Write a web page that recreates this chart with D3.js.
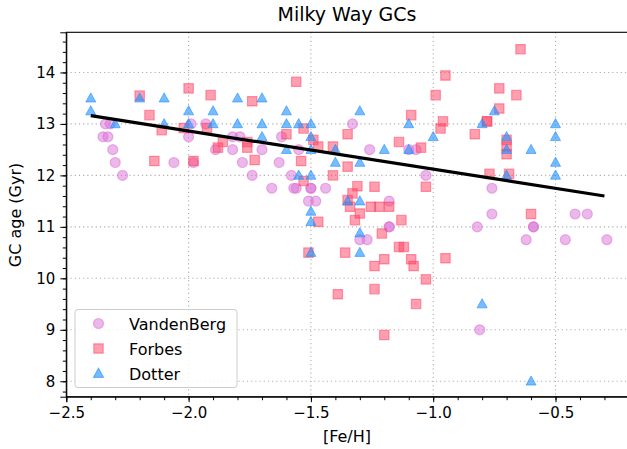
<!DOCTYPE html>
<html><head><meta charset="utf-8">
<script src="https://cdn.jsdelivr.net/npm/d3@7"></script>
<style>body{margin:0;background:#fff}svg{display:block;font-family:"DejaVu Sans",sans-serif}</style>
</head><body><svg id="c" width="627" height="449"></svg>
<script>
// ---- data ----
const vandenbergFeH = [-2.34,-2.32,-2.35,-2.33,-2.31,-2.30,-2.27,-2.06,-2.00,-1.99,-1.98,-1.93,-1.89,-1.82,-1.82,-1.79,-1.78,-1.74,-1.70,-1.66,-1.62,-1.63,-1.58,-1.55,-1.57,-1.56,-1.50,-1.50,-1.44,-1.51,-1.48,-1.33,-1.30,-1.27,-1.26,-1.18,-1.18,-1.18,-1.10,-1.07,-1.03,-0.82,-0.81,-0.76,-0.76,-0.62,-0.59,-0.59,-0.46,-0.42,-0.37,-0.29];
const vandenbergAge = [13.0,13.0,12.75,12.75,12.5,12.25,12.0,12.25,12.75,13.0,12.25,13.0,12.5,12.75,12.5,12.75,12.25,12.0,12.5,11.75,12.75,12.25,12.0,12.5,11.75,11.75,11.75,11.75,11.75,11.5,11.5,13.0,10.75,10.75,12.5,11.5,11.0,11.0,12.5,12.5,12.0,11.0,9.0,11.75,11.25,10.75,11.0,11.0,10.75,11.25,11.25,10.75];

const forbesFeH = [-2.20,-2.16,-2.14,-2.11,-2.00,-2.02,-1.98,-1.91,-1.925,-1.86,-1.88,-1.76,-1.76,-1.74,-1.73,-1.56,-1.60,-1.53,-1.49,-1.47,-1.41,-1.35,-1.54,-1.35,-1.41,-1.53,-1.31,-1.24,-1.33,-1.35,-1.34,-1.30,-1.255,-1.22,-1.18,-1.32,-1.47,-1.13,-1.21,-1.14,-1.12,-1.51,-1.36,-1.20,-1.24,-1.09,-1.08,-0.95,-1.03,-1.39,-1.24,-1.07,-1.20,-1.14,-1.09,-1.05,-0.99,-0.95,-0.96,-0.97,-1.03,-0.643,-0.73,-0.66,-0.73,-0.78,-0.78,-0.83,-0.70,-0.70,-0.70,-0.77,-0.69,-0.60];
const forbesAge = [13.55,13.17,12.28,12.88,13.69,12.92,12.28,13.56,12.92,12.65,12.54,12.65,12.54,13.44,12.30,13.82,12.80,12.91,12.69,12.56,12.56,12.80,12.28,12.17,12.00,11.89,11.79,11.78,11.65,11.52,11.39,11.26,11.39,11.39,11.39,11.13,11.10,11.13,10.87,10.61,10.61,10.50,10.50,10.37,10.24,10.37,10.24,10.39,9.98,9.69,9.79,9.50,8.90,12.65,13.17,12.54,13.56,13.94,13.05,12.91,11.78,14.45,13.69,13.56,13.30,13.05,13.05,12.80,12.69,12.56,12.41,12.03,12.03,11.25];

const dotterFeH = [-2.4,-2.4,-2.3,-2.2,-2.1,-2.1,-2.0,-2.0,-1.9,-1.9,-1.8,-1.8,-1.7,-1.7,-1.7,-1.6,-1.6,-1.6,-1.55,-1.5,-1.5,-1.5,-1.55,-1.5,-1.4,-1.4,-1.3,-1.3,-1.2,-1.1,-1.1,-1.0,-1.35,-1.3,-1.5,-1.5,-1.5,-1.3,-1.3,-0.75,-0.8,-0.7,-0.7,-0.7,-0.6,-0.5,-0.5,-0.5,-0.5,-0.8,-0.6];
const dotterAge = [13.5,13.25,13.0,13.5,13.5,13.0,13.25,13.0,13.25,13.0,13.5,13.0,13.5,13.0,12.75,13.25,13.0,12.5,13.0,13.0,12.75,12.5,12.0,12.0,12.5,12.25,13.25,12.25,12.5,13.0,12.5,12.75,11.5,11.5,11.3,11.1,10.5,10.88,10.5,13.25,13.0,12.75,12.5,12.0,12.5,13.0,12.75,12.25,12.0,9.5,8.0];

const fitFeH = [-2.4, -0.3];
const fitAge = [13.16, 11.60];

const xTicks = [-2.5, -2.0, -1.5, -1.0, -0.5];
const yTicks = [8, 9, 10, 11, 12, 13, 14];
const seriesNames = ["VandenBerg", "Forbes", "Dotter"];

// ---- layout ----
const svg = d3.select("#c");
const L = 66.3, R = 628.9, T = 32.3, B = 396.7;
const x = d3.scaleLinear().domain([-2.5, -0.2]).range([L, R]);
const y = d3.scaleLinear().domain([7.70, 14.78]).range([B, T]);

const colV = "orchid", colF = "#ff4060", colD = "dodgerblue";

// grid
const grid = svg.append("g");
grid.selectAll("line.gx").data(xTicks.slice(1)).join("line")
  .attr("x1", d => x(d)).attr("x2", d => x(d)).attr("y1", T).attr("y2", B)
  .attr("stroke", "#b0b0b0").attr("stroke-width", 1.1).attr("stroke-dasharray", "1.2,3");
grid.selectAll("line.gy").data(yTicks).join("line")
  .attr("y1", d => y(d)).attr("y2", d => y(d)).attr("x1", L).attr("x2", R)
  .attr("stroke", "#b0b0b0").attr("stroke-width", 1.1).attr("stroke-dasharray", "1.2,3");

// clip
svg.append("clipPath").attr("id", "clip").append("rect")
  .attr("x", L).attr("y", T).attr("width", R - L).attr("height", B - T);
const plot = svg.append("g").attr("clip-path", "url(#clip)");

const circle = d3.symbol().type(d3.symbolCircle).size(Math.PI * 25);
const square = d3.symbol().type(d3.symbolSquare).size(88);
const triPath = "M0,-5.3L5,3.8L-5,3.8Z";

function pts(xs, ys) { return xs.map((v, i) => [v, ys[i]]); }

plot.append("g").selectAll("path").data(pts(vandenbergFeH, vandenbergAge)).join("path")
  .attr("d", circle).attr("transform", d => `translate(${x(d[0])},${y(d[1])})`)
  .attr("fill", colV).attr("fill-opacity", 0.5).attr("stroke", colV).attr("stroke-opacity", 0.5).attr("stroke-width", 1.2);
plot.append("g").selectAll("path").data(pts(forbesFeH, forbesAge)).join("path")
  .attr("d", square).attr("transform", d => `translate(${x(d[0])},${y(d[1])})`)
  .attr("fill", colF).attr("fill-opacity", 0.5).attr("stroke", colF).attr("stroke-opacity", 0.5).attr("stroke-width", 1.2);
plot.append("g").selectAll("path").data(pts(dotterFeH, dotterAge)).join("path")
  .attr("d", triPath).attr("transform", d => `translate(${x(d[0])},${y(d[1])})`)
  .attr("fill", colD).attr("fill-opacity", 0.6).attr("stroke", colD).attr("stroke-opacity", 0.6).attr("stroke-width", 1);

// fit line
plot.append("path").datum(pts(fitFeH, fitAge))
  .attr("d", d3.line().x(d => x(d[0])).y(d => y(d[1])))
  .attr("stroke", "#000").attr("stroke-width", 3.2).attr("fill", "none");

// axes
const xMinor = d3.range(-25, -1, 1).map(v => v / 10);
const yMinor = d3.range(39, 74, 1).map(v => v / 5).filter(v => v >= 7.7 && v <= 14.78);
const xAxis = d3.axisBottom(x).tickValues(xTicks).tickSize(5.5).tickPadding(5)
  .tickFormat(d => d3.format(".1f")(d).replace("-", "\u2212"));
const yAxis = d3.axisLeft(y).tickValues(yTicks).tickSize(6).tickPadding(5).tickFormat(d3.format("d"));

const gx = svg.append("g").attr("transform", `translate(0,${B})`).call(xAxis);
const gy = svg.append("g").attr("transform", `translate(${L},0)`).call(yAxis);
svg.append("g").attr("transform", `translate(0,${B})`)
  .call(d3.axisBottom(x).tickValues(xMinor).tickSize(3.5).tickFormat(""))
  .call(g => g.select(".domain").remove());
svg.append("g").attr("transform", `translate(${L},0)`)
  .call(d3.axisLeft(y).tickValues(yMinor).tickSize(3.5).tickFormat(""))
  .call(g => g.select(".domain").remove());
[gx, gy].forEach(g => {
  g.selectAll("text").attr("font-size", 15).attr("fill", "#000").attr("font-family", "DejaVu Sans");
  g.selectAll("line").attr("stroke", "#000");
  g.select(".domain").attr("stroke", "#000");
});
svg.selectAll(".tick line").attr("stroke-width", 1);

// frame
svg.append("rect").attr("x", L).attr("y", T).attr("width", R - L).attr("height", B - T)
  .attr("fill", "none").attr("stroke", "#000").attr("stroke-width", 1.1);

// labels
svg.append("text").attr("x", 347).attr("y", 21).attr("text-anchor", "middle")
  .attr("font-size", 19).text("Milky Way GCs");
svg.append("text").attr("x", 347).attr("y", 442).attr("text-anchor", "middle")
  .attr("font-size", 16).text("[Fe/H]");
svg.append("text").attr("transform", "translate(21,215) rotate(-90)").attr("text-anchor", "middle")
  .attr("font-size", 16).text("GC age (Gyr)");

// legend
const lg = svg.append("g");
lg.append("rect").attr("x", 75).attr("y", 309.5).attr("width", 162).attr("height", 78)
  .attr("rx", 3).attr("fill", "#fff").attr("fill-opacity", 0.8).attr("stroke", "#cccccc").attr("stroke-width", 1);
const legY = d3.scalePoint().domain(seriesNames).range([323.5, 373.5]);
const legShapes = {VandenBerg: [circle(), colV, 0.5], Forbes: [square(), colF, 0.5], Dotter: [triPath, colD, 0.6]};
seriesNames.forEach(n => {
  const [d, c, o] = legShapes[n];
  lg.append("path").attr("d", d).attr("transform", `translate(98.5,${legY(n)})`)
    .attr("fill", c).attr("fill-opacity", o).attr("stroke", c).attr("stroke-opacity", o).attr("stroke-width", 1.2);
  lg.append("text").attr("x", 129).attr("y", legY(n) + 6).attr("font-size", 16).text(n);
});
</script></body></html>
